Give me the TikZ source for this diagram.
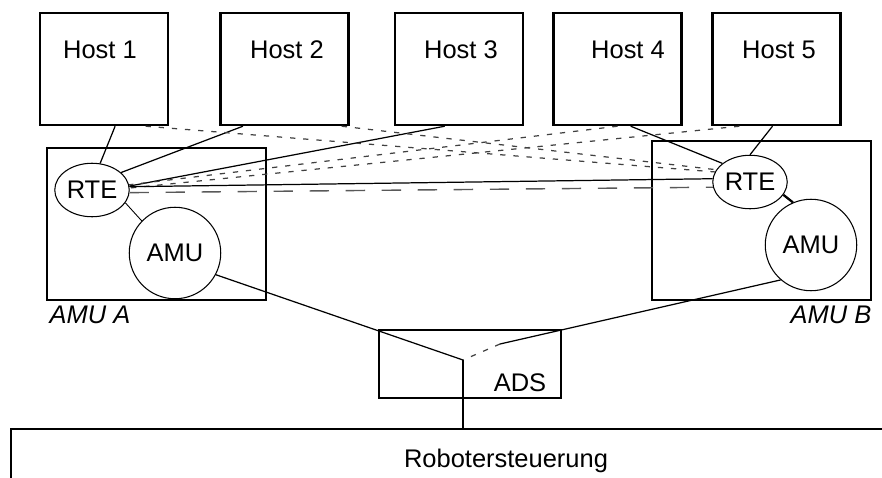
\documentclass[tikz,border=0pt]{standalone}
\usepackage{fontspec}
\setmainfont{Liberation Sans}
\usetikzlibrary{shapes.geometric}

\tikzset{
	hostbox/.style={draw,line width=1.4pt,minimum width=2.56cm,minimum height=2.24cm,inner sep=0},
	unitbox/.style={draw,line width=1.4pt,minimum width=4.38cm,inner sep=0},
	adsbox/.style={draw,line width=1.4pt,minimum width=3.64cm,minimum height=1.36cm,inner sep=0},
	rte/.style={draw,ellipse,line width=0.6pt,minimum width=1.49cm,minimum height=1.07cm,inner sep=0,font=\fontsize{14.5}{17}\selectfont},
	amu/.style={draw,circle,line width=0.6pt,minimum size=1.83cm,inner sep=0,font=\fontsize{14.5}{17}\selectfont},
	txt/.style={anchor=base,inner sep=0,font=\fontsize{14.5}{17}\selectfont},
	unitlabel/.style={anchor=base,inner sep=0,font=\fontsize{14.5}{17}\selectfont\itshape},
	link/.style={line width=0.7pt},
	remote/.style={line width=0.7pt,black!75,dash pattern=on 3pt off 4.5pt},
	backup/.style={line width=0.8pt,black!65,dash pattern=on 11pt off 9.5pt},
}

\begin{document}
\begin{tikzpicture}[x=0.02cm,y=-0.02cm]
	\clip (0,0) rectangle (882,477);
	% hosts
	\node[hostbox] (h1) at (104,69) {};
	\node[hostbox] (h2) at (284.5,69) {};
	\node[hostbox] (h3) at (459,69) {};
	\node[hostbox] (h4) at (617.5,69) {};
	\node[hostbox] (h5) at (776.5,69) {};
	\node[txt] (t1) at (100,58) {Host 1};
	\node[txt] (t2) at (287,58) {Host 2};
	\node[txt] (t3) at (461,58) {Host 3};
	\node[txt] (t4) at (628,58) {Host 4};
	\node[txt] (t5) at (779,58) {Host 5};
	% the two AMU units
	\node[unitbox,minimum height=3.04cm] (ua) at (156.5,224) {};
	\node[rte] (rteA) at (92,190) {RTE};
	\node[amu] (amuA) at (175,253) {AMU};
	\node[unitlabel] (la) at (90,323) {AMU A};
	\node[unitbox,minimum height=3.18cm] (ub) at (761.5,220.5) {};
	\node[rte] (rteB) at (750,182) {RTE};
	\node[amu] (amuB) at (811,245) {AMU};
	\node[unitlabel] (lb) at (831,323) {AMU B};
	% ADS and robot control
	\node[adsbox] (ads) at (470,364) {};
	\node[txt] (tads) at (520,391) {ADS};
	\node[draw,line width=1.4pt,anchor=north west,minimum width=18cm,minimum height=2cm] (rs) at (10,428) {};
	\node[txt] (trs) at (506,467) {Robotersteuerung};
	\coordinate (tap) at (463,360);
	\coordinate (gap) at (500,344);
	% host links
	\draw[link] (h1.-79) -- (rteA.73);
	\draw[link] (h2.-126) -- (rteA.31);
	\draw[link] (h3.-104) -- (rteA.6);
	\draw[link] (h4.-77) -- (rteB.146);
	\draw[link] (h5.-94) -- (rteB.90);
	\draw[remote] (h1.-54) -- (rteB.164);
	\draw[remote] (h2.-45) -- (rteB.160);
	\draw[remote] (h4.south) -- (rteA.8);
	\draw[remote] (h5.-123) -- (rteA.3);
	% RTE to RTE
	\draw[link] (rteA.5) -- (rteB.175);
	\draw[backup] (rteA.-4) -- (rteB.188);
	% inside the units
	\draw[line width=0.5pt] (rteA.-21) -- (amuA.136);
	\draw[line width=1.3pt] (rteB.-21) -- (amuB.113);
	% down to the ADS
	\draw[link] (amuA.-28) -- (tap);
	\draw[link] (amuB.-131) -- (gap);
	\draw[remote] (gap) -- (tap);
	\draw[line width=1pt] (tap) -- (tap |- rs.north);
\end{tikzpicture}
\end{document}
